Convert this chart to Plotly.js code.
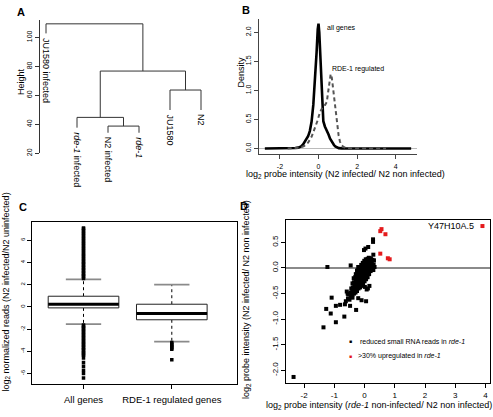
<!DOCTYPE html>
<html><head><meta charset="utf-8">
<script src="https://cdn.plot.ly/plotly-3.0.1.min.js"></script>
<style>html,body{margin:0;padding:0;background:#fff}#chart{width:493px;height:417px}</style>
</head><body><div id="chart"></div>
<script>
// ---------- Panel A: dendrogram ----------
const leafLabels = ['JU1580 infected', '<i>rde-1</i> infected', 'N2 infected', '<i>rde-1</i>', 'JU1580', 'N2'];
const leafEnds = [102.8, 37.7, 34.2, 34.2, 49.9, 49.9];
const mergeLeft = [-3, -2, -5, 2, -1];   // hclust style: negative = leaf, positive = earlier merge
const mergeRight = [-4, 1, -6, 3, 4];
const mergeHeights = [38.8, 44.8, 63.7, 76.8, 109.4];
const heightTicks = [20, 40, 60, 80, 100];

// ---------- Panel B: densities ----------
const densAllX = [-2.78,-2.0,-1.5,-1.2,-1.05,-0.9,-0.8,-0.65,-0.54,-0.45,-0.36,-0.27,-0.18,-0.1,-0.04,0.0,0.04,0.08,0.13,0.17,0.21,0.25,0.33,0.43,0.52,0.6,0.7,0.8,0.87,0.95,1.05,1.2,1.5,2.0,3.0,4.0,4.8];
const densAllY = [0,0,0.003,0.008,0.015,0.035,0.07,0.14,0.21,0.3,0.46,0.75,1.15,1.65,2.05,2.15,2.0,1.72,1.25,0.92,0.65,0.47,0.38,0.32,0.24,0.17,0.11,0.06,0.035,0.015,0.006,0.002,0,0,0,0,0];
const densRdeX = [-1.6,-1.2,-0.97,-0.75,-0.54,-0.36,-0.18,-0.05,0.08,0.17,0.25,0.34,0.43,0.49,0.54,0.59,0.63,0.69,0.76,0.83,0.9,0.97,1.04,1.11,1.19,1.3,1.45,1.7,2.2,2.8,3.5];
const densRdeY = [0,0.005,0.015,0.04,0.1,0.2,0.35,0.48,0.63,0.7,0.73,0.75,0.8,0.95,1.1,1.22,1.28,1.22,1.03,0.8,0.57,0.38,0.23,0.12,0.06,0.025,0.01,0.004,0.003,0.002,0];
const densLabels = ['all genes', 'RDE-1 regulated'];
const densTicksX = [-2, 0, 2, 4];
const densTicksY = [0, 0.5, 1, 1.5, 2];

// ---------- Panel C: box plots ----------
const boxCats = ['All genes', 'RDE-1 regulated genes'];
const boxLowerWhisker = [-1.55, -3.13];
const boxQ1 = [-0.09, -1.16];
const boxMedian = [0.24, -0.60];
const boxQ3 = [0.96, 0.24];
const boxUpperWhisker = [2.48, 2.00];
const outliersAll = [2.55,2.68,2.8,2.93,3.05,3.2,3.33,3.47,3.6,3.74,3.88,4.02,4.15,4.3,4.45,4.6,4.74,4.9,5.05,5.2,5.35,5.5,5.65,5.8,5.95,6.1,6.25,6.4,6.55,6.7,6.85,7.0,7.1,
  -1.62,-1.75,-1.88,-2.0,-2.13,-2.26,-2.4,-2.53,-2.66,-2.8,-2.93,-3.06,-3.2,-3.33,-3.46,-3.6,-3.73,-3.86,-4.0,-4.13,-4.26,-4.35,-4.6,-5.0,-5.35,-5.7,-6.0,-6.4];
const outliersRde = [-3.2,-3.33,-3.46,-3.58,-3.7,-3.82,-4.75];
const boxTicksY = [-6, -4, -2, 0, 2, 4, 6];

// ---------- Panel D: scatter ----------
const dBlackPoints = [
  [-2.35,-2.13],[-1.36,-1.16],[-1.27,-0.80],[-1.12,-0.89],[-1.09,-0.58],[-0.95,-0.74],[-0.95,-1.06],
  [-0.81,-0.72],[-0.65,-0.71],[-0.62,-0.65],[-0.67,-0.95],[-0.48,-0.74],[-0.46,-0.57],[-0.28,-0.82],
  [0.05,-0.65],[0.07,-0.42],[0.11,-0.40],[-1.23,0.02],[-0.46,0.05],[-0.02,0.35],[0.03,0.38],[0.12,0.41],
  [0.28,0.56],[0.28,0.51],[0.29,0.26],[0.33,0.02],[0.01,-0.37],[0.16,-0.35],[0.29,-0.04],[-0.59,-0.46],
  [-0.55,-0.60],[-0.50,-0.62],[-0.40,-0.58],[-0.54,-0.52],[-0.21,-0.59],[-0.10,-0.63],[-0.43,-0.51],
  [-0.56,-0.50],[-0.37,-0.43],[-0.32,-0.37],[-0.26,-0.30],
  [-0.45,-0.55],[-0.46,-0.48],[-0.44,-0.40],
  [-0.40,-0.52],[-0.41,-0.45],[-0.39,-0.38],[-0.40,-0.30],
  [-0.35,-0.50],[-0.36,-0.42],[-0.34,-0.35],[-0.35,-0.28],[-0.36,-0.20],
  [-0.30,-0.48],[-0.31,-0.40],[-0.29,-0.33],[-0.30,-0.26],[-0.31,-0.18],[-0.29,-0.12],
  [-0.25,-0.45],[-0.26,-0.38],[-0.24,-0.30],[-0.25,-0.24],[-0.26,-0.17],[-0.24,-0.10],[-0.25,-0.05],
  [-0.20,-0.40],[-0.21,-0.34],[-0.19,-0.28],[-0.20,-0.22],[-0.21,-0.16],[-0.19,-0.10],[-0.20,-0.04],[-0.21,0.02],
  [-0.15,-0.38],[-0.16,-0.30],[-0.14,-0.24],[-0.15,-0.18],[-0.16,-0.12],[-0.14,-0.06],[-0.15,0.00],
  [-0.10,-0.35],[-0.11,-0.28],[-0.09,-0.22],[-0.10,-0.16],[-0.11,-0.10],[-0.09,-0.04],[-0.10,0.02],[-0.11,0.06],
  [-0.05,-0.30],[-0.06,-0.24],[-0.04,-0.18],[-0.05,-0.12],[-0.06,-0.06],[-0.04,0.00],[-0.05,0.05],[-0.06,0.10],
  [0.00,-0.26],[-0.01,-0.20],[0.01,-0.14],[0.00,-0.08],[-0.01,-0.02],[0.01,0.04],[0.00,0.09],[-0.01,0.14],
  [0.05,-0.22],[0.04,-0.15],[0.06,-0.09],[0.05,-0.03],[0.04,0.03],[0.06,0.08],[0.05,0.13],[0.04,0.17],
  [0.10,-0.18],[0.11,-0.10],[0.09,-0.04],[0.10,0.02],[0.11,0.07],[0.09,0.12],[0.10,0.18],
  [0.15,-0.12],[0.16,-0.05],[0.14,0.02],[0.15,0.08],[0.16,0.14],[0.14,0.20],
  [0.20,-0.06],[0.21,0.02],[0.19,0.08],[0.20,0.14],[0.21,0.19],
  [0.25,0.03],[0.24,0.10],[0.26,0.16],
  [0.30,0.07],[0.31,0.15]
];
const dRedPoints = [[3.9,0.82],[0.52,0.72],[0.56,0.76],[0.69,0.66],[0.52,0.28],[0.77,0.19],[0.83,0.17]];
const dPointLabel = 'Y47H10A.5';
const dLegendLabels = ['reduced small RNA reads in <i>rde-1</i>', '&gt;30% upregulated in <i>rde-1</i>'];
const dTicksX = [-2, -1, 0, 1, 2, 3, 4];
const dTicksY = [-2, -1.5, -1, -0.5, 0, 0.5];

// ---------- helpers ----------
const W = 493, H = 417;
const FONT = 'Liberation Sans, Arial, Helvetica, sans-serif';
const RED = '#e41a1c';
const px = v => v / W;
const py = v => 1 - v / H;
function padRange(vals, f) {
  const mn = Math.min(...vals), mx = Math.max(...vals), p = (mx - mn) * f;
  return [mn - p, mx + p];
}
const fmt1 = v => v.toFixed(1);
const fmt0 = v => String(v);

const traces = [];

// Dendrogram
const mergeX = [];
const nodeX = id => id < 0 ? -id : mergeX[id - 1];
const nodeY = id => id < 0 ? leafEnds[-id - 1] : mergeHeights[id - 1];
const treeX = [], treeY = [];
for (let j = 0; j < mergeHeights.length; j++) {
  const a = mergeLeft[j], b = mergeRight[j], h = mergeHeights[j];
  const xa = nodeX(a), xb = nodeX(b);
  mergeX.push((xa + xb) / 2);
  treeX.push(xa, xa, xb, xb, null);
  treeY.push(nodeY(a), h, h, nodeY(b), null);
}
traces.push({x: treeX, y: treeY, xaxis: 'x', yaxis: 'y', mode: 'lines',
  line: {color: '#333', width: 1}, hoverinfo: 'skip', showlegend: false});

// Densities
traces.push({x: densAllX, y: densAllY, xaxis: 'x2', yaxis: 'y2', mode: 'lines',
  line: {color: '#000', width: 2.6}, showlegend: false});
traces.push({x: densRdeX, y: densRdeY, xaxis: 'x2', yaxis: 'y2', mode: 'lines',
  line: {color: '#555', width: 2, dash: '4px,3px'}, showlegend: false});

// Box plots
const boxHalf = 0.4, capHalf = 0.2;
boxCats.forEach((c, i) => {
  const xc = i + 1;
  traces.push({x: [xc, xc, null, xc, xc], y: [boxQ3[i], boxUpperWhisker[i], null, boxQ1[i], boxLowerWhisker[i]],
    xaxis: 'x3', yaxis: 'y3', mode: 'lines', line: {color: '#000', width: 1, dash: '3px,3px'}, showlegend: false});
  traces.push({x: [xc - capHalf, xc + capHalf, null, xc - capHalf, xc + capHalf],
    y: [boxUpperWhisker[i], boxUpperWhisker[i], null, boxLowerWhisker[i], boxLowerWhisker[i]],
    xaxis: 'x3', yaxis: 'y3', mode: 'lines', line: {color: '#8a8a8a', width: 1.6}, showlegend: false});
  traces.push({x: [xc - boxHalf, xc + boxHalf, xc + boxHalf, xc - boxHalf, xc - boxHalf],
    y: [boxQ1[i], boxQ1[i], boxQ3[i], boxQ3[i], boxQ1[i]],
    xaxis: 'x3', yaxis: 'y3', mode: 'lines', fill: 'toself', fillcolor: '#fff',
    line: {color: '#222', width: 1}, showlegend: false});
  traces.push({x: [xc - boxHalf, xc + boxHalf], y: [boxMedian[i], boxMedian[i]],
    xaxis: 'x3', yaxis: 'y3', mode: 'lines', line: {color: '#000', width: 3}, showlegend: false});
});
[outliersAll, outliersRde].forEach((arr, i) => {
  traces.push({x: arr.map(() => i + 1), y: arr, xaxis: 'x3', yaxis: 'y3', mode: 'markers',
    marker: {symbol: 'square', size: 3.5, color: '#000'}, showlegend: false});
});

// Scatter
traces.push({x: dBlackPoints.map(p => p[0]), y: dBlackPoints.map(p => p[1]), xaxis: 'x4', yaxis: 'y4',
  mode: 'markers', marker: {symbol: 'square', size: 4, color: '#000'}, showlegend: false});
traces.push({x: dRedPoints.map(p => p[0]), y: dRedPoints.map(p => p[1]), xaxis: 'x4', yaxis: 'y4',
  mode: 'markers', marker: {symbol: 'square', size: 4, color: RED}, showlegend: false});

// Ranges
const rangeB_x = padRange(densAllX.concat(densRdeX), 0.04);
const rangeB_y = padRange(densAllY.concat(densRdeY), 0.04);
const rangeC_y = padRange(outliersAll.concat(outliersRde, boxLowerWhisker, boxUpperWhisker), 0.04);
const allD = dBlackPoints.concat(dRedPoints);
const rangeD_x = padRange(allD.map(p => p[0]), 0.04);
const rangeD_y = padRange(allD.map(p => p[1]), 0.04);

const axBase = {showgrid: false, zeroline: false, ticks: 'outside', ticklen: 4, tickwidth: 1,
  tickcolor: '#000', linecolor: '#000', linewidth: 1, showline: true, tickmode: 'array',
  fixedrange: true};

const layout = {
  width: W, height: H, margin: {l: 0, r: 0, t: 0, b: 0}, paper_bgcolor: '#fff', plot_bgcolor: 'rgba(0,0,0,0)',
  font: {family: FONT, color: '#000', size: 9}, showlegend: false,
  xaxis: {domain: [px(39.8), px(207.2)], range: [0.8, 6.2], visible: false, anchor: 'y', fixedrange: true},
  yaxis: Object.assign({}, axBase, {domain: [py(153.3), py(19.5)], range: [20, 112.4], anchor: 'x',
    tickvals: heightTicks, ticktext: heightTicks.map(fmt0), tickangle: -90, tickfont: {size: 7},
    linecolor: '#333', tickcolor: '#333'}),
  xaxis2: Object.assign({}, axBase, {domain: [px(259), px(417)], range: rangeB_x, anchor: 'y2',
    tickvals: densTicksX, ticktext: densTicksX.map(fmt0), tickfont: {size: 7}, ticklabelstandoff: 2,
    linecolor: '#444', tickcolor: '#444'}),
  yaxis2: Object.assign({}, axBase, {domain: [py(153.5), py(18.6)], range: rangeB_y, anchor: 'x2',
    tickvals: densTicksY, ticktext: densTicksY.map(fmt1), tickangle: -90, tickfont: {size: 7},
    zeroline: true, zerolinecolor: '#bbb', zerolinewidth: 1, linecolor: '#444', tickcolor: '#444'}),
  xaxis3: Object.assign({}, axBase, {domain: [px(32.3), px(236.7)], range: [0.42, 2.735], anchor: 'y3',
    mirror: true, tickvals: [1, 2], ticktext: boxCats, tickfont: {size: 9.5}, ticklabelstandoff: 3}),
  yaxis3: Object.assign({}, axBase, {domain: [py(384), py(222)], range: rangeC_y, anchor: 'x3',
    mirror: true, tickvals: boxTicksY, ticktext: boxTicksY.map(fmt0), tickangle: -90, tickfont: {size: 6}}),
  xaxis4: Object.assign({}, axBase, {domain: [px(286), px(490)], range: rangeD_x, anchor: 'y4',
    mirror: true, tickvals: dTicksX, ticktext: dTicksX.map(fmt0), tickfont: {size: 8}}),
  yaxis4: Object.assign({}, axBase, {domain: [py(383), py(220)], range: rangeD_y, anchor: 'x4',
    mirror: true, tickvals: dTicksY, ticktext: dTicksY.map(fmt1), tickangle: -90, tickfont: {size: 8},
    zeroline: true, zerolinecolor: '#8a8a8a', zerolinewidth: 1.6}),
  annotations: []
};

const ann = layout.annotations;
const paperText = (text, x, y, opts) => ann.push(Object.assign({text, x: px(x), y: py(y), xref: 'paper', yref: 'paper',
  showarrow: false, xanchor: 'center', yanchor: 'middle', font: {size: 9}}, opts || {}));

// panel letters
paperText('<b>A</b>', 21, 12, {font: {size: 11}});
paperText('<b>B</b>', 246, 10, {font: {size: 11}});
paperText('<b>C</b>', 22.5, 207, {font: {size: 11}});
paperText('<b>D</b>', 244, 206, {font: {size: 11}});

// axis titles
paperText('Height', 21, 82, {textangle: -90});
paperText('Density', 240.5, 72, {textangle: -90});
paperText('log<sub>2</sub> probe intensity (N2 infected/ N2 non infected)', 345.5, 174);
paperText('log<sub>2</sub> normalized reads (N2 infected/N2 uninfected)', 6, 292.5, {textangle: -90});
paperText('log<sub>2</sub> probe intensity (N2 infected/ N2 non infected)', 246, 300, {textangle: -90});
paperText('log<sub>2</sub> probe intensity (<i>rde-1</i> non-infected/ N2 non infected)', 378.5, 405.5);

// leaf labels
leafLabels.forEach((lab, i) => ann.push({text: lab, x: i + 1, y: leafEnds[i], xref: 'x', yref: 'y',
  showarrow: false, textangle: 90, xanchor: 'center', yanchor: 'top', yshift: -2, font: {size: 9}}));

// density labels
ann.push({text: densLabels[0], x: 0.33, y: 2.07, xref: 'x2', yref: 'y2', showarrow: false,
  xanchor: 'left', yanchor: 'middle', font: {size: 7}});
ann.push({text: densLabels[1], x: 0.58, y: 1.37, xref: 'x2', yref: 'y2', showarrow: false,
  xanchor: 'left', yanchor: 'middle', font: {size: 7}});

// scatter point label
ann.push({text: dPointLabel, x: dRedPoints[0][0], y: dRedPoints[0][1], xref: 'x4', yref: 'y4', showarrow: false,
  xanchor: 'right', yanchor: 'middle', xshift: -6, font: {size: 9}});

// scatter legend
paperText('<span style="color:#000">■</span>', 350.5, 341, {font: {size: 5}});
paperText('<span style="color:' + RED + '">■</span>', 350.5, 355.5, {font: {size: 5}});
paperText(dLegendLabels[0], 358, 341, {xanchor: 'left', font: {size: 7}});
paperText(dLegendLabels[1], 356, 355.5, {xanchor: 'left', font: {size: 7}});

Plotly.newPlot('chart', traces, layout, {displayModeBar: false, staticPlot: true});
</script>
</body></html>
